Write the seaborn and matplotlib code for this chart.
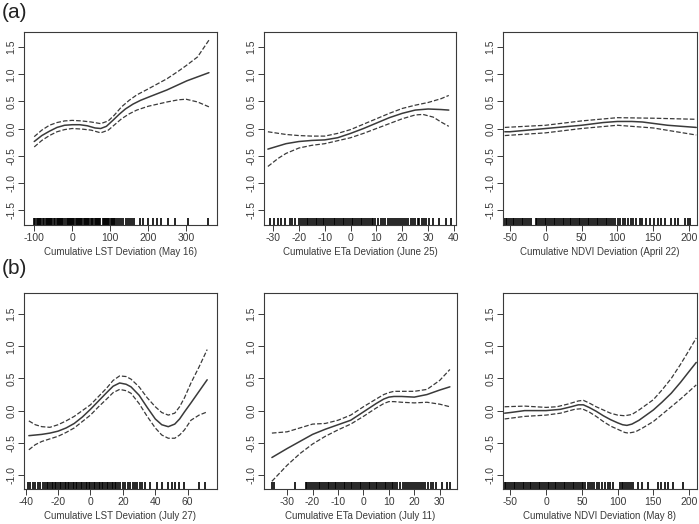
import matplotlib
matplotlib.use("Agg")
import matplotlib.pyplot as plt
import seaborn as sns

sns.set_style("ticks")
plt.rcParams['font.family'] = ['Liberation Sans', 'DejaVu Sans']
plt.rcParams['axes.unicode_minus'] = False

# ---- row (a) ----
# LST May 16
a1_x = [-100, -80, -60, -40, -20, 0, 20, 40, 60, 75, 90, 107, 125, 140, 160, 180, 205, 249, 302, 360]
a1_fit = [-0.24, -0.13, -0.05, 0.02, 0.06, 0.07, 0.07, 0.05, 0.01, 0.0, 0.04, 0.15, 0.27, 0.36,
          0.45, 0.52, 0.59, 0.71, 0.88, 1.03]
a1_band_x = [-100, -80, -60, -40, -20, 0, 25, 50, 75, 95, 110, 130, 150, 170, 200, 250, 280, 300, 330, 360]
a1_up = [-0.15, -0.03, 0.06, 0.11, 0.14, 0.15, 0.14, 0.12, 0.09, 0.14, 0.24, 0.40, 0.52, 0.62,
         0.73, 0.92, 1.06, 1.16, 1.32, 1.63]
a1_lo = [-0.34, -0.22, -0.13, -0.06, -0.02, 0.0, -0.01, -0.03, -0.08, -0.03, 0.06, 0.18, 0.27,
         0.34, 0.41, 0.49, 0.53, 0.54, 0.49, 0.40]
a1_rug = [-100, -97, -94, -91, -88, -85, -82, -76, -73, -70, -67, -64, -61, -58, -55,
          -52, -49, -46, -41, -38, -35, -32, -29, -26, -23, -20, -15, -12, -9, -6, -3,
          0, 3, 6, 9, 12, 15, 18, 21, 24, 27, 30, 33, 36, 39, 42, 45, 50, 53, 56, 59,
          62, 65, 68, 71, 74, 80, 83, 86, 89, 92, 95, 98, 101, 104, 107, 110, 113, 118,
          124, 128, 135, 141, 146, 152, 158, 164, 178, 187, 200, 213, 222, 235, 252,
          270, 304, 358]

# ETa June 25
a2_x = [-32, -25, -20, -15, -10, -5, 0, 5, 10, 15, 20, 25, 30, 35, 38]
a2_fit = [-0.38, -0.28, -0.24, -0.22, -0.21, -0.17, -0.09, 0.0, 0.10, 0.20, 0.28, 0.34, 0.36,
          0.35, 0.34]
a2_up = [-0.06, -0.11, -0.13, -0.14, -0.14, -0.09, -0.02, 0.08, 0.18, 0.28, 0.37, 0.43, 0.48,
         0.55, 0.61]
a2_lo_x = [-32, -28, -25, -20, -15, -10, 0, 5, 10, 15, 20, 25, 28, 32, 35, 38]
a2_lo = [-0.70, -0.55, -0.46, -0.36, -0.31, -0.28, -0.17, -0.09, 0.0, 0.09, 0.18, 0.25, 0.26,
         0.21, 0.12, 0.04]
a2_rug = [-31.3, -29.6, -28, -27, -25.5, -23.5, -22.6, -21.6, -20, -19.3, -18.5, -17.8,
          -17, -16.4, -15.7, -15, -14.2, -13.5, -12.9, -12.2, -11.5, -10.8, -10.1, -9.4,
          -8.7, -8, -7.3, -6.6, -5.9, -5.2, -4.5, -3.8, -3.1, -2.4, -1.7, -1, -0.3, 0.4,
          1.1, 1.8, 2.5, 3.2, 3.9, 4.6, 5.3, 6, 6.7, 7.4, 8.1, 8.8, 9.5, 10.5, 11.6, 12.4,
          13.5, 14.3, 15.2, 16, 16.9, 17.7, 18.5, 19.2, 20, 20.8, 21.5, 22.3, 23.4, 24.2,
          25, 25.9, 26.6, 27.5, 28.4, 29.2, 30.4, 31.7, 34.3, 36.9, 38.8]

# NDVI April 22
a3_x = [-57, -50, 0, 50, 80, 100, 120, 135, 170, 210]
a3_fit = [-0.06, -0.06, 0.0, 0.06, 0.11, 0.13, 0.13, 0.12, 0.06, 0.02]
a3_band_x = [-57, 0, 50, 100, 150, 210]
a3_up = [0.02, 0.06, 0.14, 0.20, 0.19, 0.17]
a3_lo = [-0.13, -0.08, 0.0, 0.06, 0.01, -0.12]
a3_rug = [-58, -56, -53.5, -51, -48.5, -46, -43.5, -41, -38.5, -36, -33.5, -31, -28.5,
          -26, -23.5, -21, -14, -11.5, -9, -6.5, -4, -1.5, 1, 3.5, 6, 8.5, 11, 13.5, 16,
          18.5, 21, 23.5, 26, 28.5, 31, 33.5, 36, 38.5, 41, 43.5, 46, 48.5, 51, 53.5, 56,
          58.5, 61, 63.5, 66, 68.5, 71, 73.5, 76, 78.5, 81, 83.5, 86, 88.5, 91, 93.5, 97,
          101, 104, 108, 111, 115, 119, 122, 126, 131, 135, 140, 146, 151, 157, 161, 167,
          175, 180, 185, 194, 199, 201]

# ---- row (b) ----
# LST July 27
b1_x = [-38, -34, -30, -25, -20, -15, -10, -5, 0, 5, 10, 14, 18, 22, 25, 30, 35, 40, 44, 48,
        52, 55, 58, 62, 67, 72]
b1_fit = [-0.39, -0.38, -0.37, -0.35, -0.32, -0.27, -0.20, -0.10, 0.02, 0.15, 0.28, 0.38, 0.43,
          0.41, 0.37, 0.24, 0.05, -0.13, -0.22, -0.25, -0.21, -0.13, -0.02, 0.12, 0.30, 0.48]
b1_up = [-0.16, -0.22, -0.25, -0.26, -0.22, -0.16, -0.09, 0.0, 0.09, 0.22, 0.35, 0.47, 0.54,
         0.53, 0.49, 0.37, 0.20, 0.06, -0.03, -0.07, -0.04, 0.06, 0.20, 0.43, 0.68, 0.95]
b1_lo = [-0.61, -0.53, -0.48, -0.44, -0.40, -0.34, -0.27, -0.17, -0.07, 0.06, 0.18, 0.28, 0.33,
         0.31, 0.27, 0.11, -0.09, -0.27, -0.38, -0.43, -0.43, -0.38, -0.30, -0.15, -0.07, -0.02]
b1_rug = [-38.4, -37, -35.5, -34, -32.5, -31, -29.5, -28, -27, -26, -25, -24, -23, -22,
          -21, -20, -19, -18, -17, -16, -15, -14, -13, -12, -11, -10, -9, -8, -7, -6, -5,
          -4, -3, -2, -1, 0, 1, 2, 3, 4, 5, 6, 7, 8, 9, 10, 11, 12, 13, 14, 15, 16, 17,
          18.5, 20, 21.5, 23, 24.5, 26, 27.5, 29, 30.5, 32, 33.5, 37, 41, 44, 48, 50, 52,
          54.5, 57.5, 66.7, 70.8]

# ETa July 11
b2_x = [-36, -30, -25, -20, -15, -10, -5, 0, 5, 8, 10, 12, 15, 20, 25, 30, 34]
b2_fit = [-0.73, -0.59, -0.48, -0.37, -0.29, -0.22, -0.15, -0.02, 0.11, 0.18, 0.21, 0.22, 0.22,
          0.21, 0.25, 0.32, 0.37]
b2_up = [-0.35, -0.33, -0.27, -0.21, -0.20, -0.15, -0.07, 0.06, 0.18, 0.25, 0.28, 0.30, 0.30,
         0.30, 0.33, 0.47, 0.64]
b2_lo = [-1.10, -0.85, -0.67, -0.52, -0.40, -0.30, -0.21, -0.09, 0.04, 0.11, 0.14, 0.14, 0.13,
         0.12, 0.13, 0.10, 0.06]
b2_rug = [-35.8, -35.3, -27, -22.6, -22, -21.3, -20.5, -19.8, -19, -18.3, -17.6, -16.9,
          -16.2, -15.5, -14.8, -14.1, -13.4, -12.7, -12, -11.3, -10.6, -9.9, -9.2, -8.5,
          -7.8, -7.1, -6.4, -5.7, -5, -4.3, -3.6, -2.9, -2.2, -1.5, -0.8, -0.1, 0.6, 1.3,
          2, 2.7, 3.4, 4.1, 4.8, 5.5, 6.2, 6.9, 7.6, 8.3, 9, 9.7, 10.4, 11.1, 11.8, 12.5,
          13.2, 14.4, 15.6, 16.3, 17, 17.8, 18.6, 19.4, 20.2, 21, 21.8, 22.6, 23.6, 24.4,
          25.5, 26.5, 27.4, 28.6, 31, 33, 34]

# NDVI May 8
b3_x = [-58, -50, -30, 0, 20, 35, 45, 52, 60, 70, 80, 90, 100, 107, 113, 120, 130, 140, 150,
        162, 175, 188, 200, 210]
b3_fit = [-0.04, -0.03, 0.0, 0.0, 0.02, 0.06, 0.09, 0.09, 0.05, -0.01, -0.08, -0.14, -0.19,
          -0.22, -0.23, -0.21, -0.15, -0.07, 0.01, 0.13, 0.27, 0.44, 0.61, 0.75]
b3_up_x = [-58, -30, 0, 15, 30, 45, 52, 60, 70, 80, 90, 100, 110, 120, 130, 140, 150, 162,
           175, 188, 200, 210]
b3_up = [0.06, 0.07, 0.05, 0.06, 0.10, 0.15, 0.16, 0.12, 0.06, 0.01, -0.04, -0.07, -0.08,
         -0.06, 0.01, 0.09, 0.17, 0.32, 0.50, 0.72, 0.94, 1.13]
b3_lo_x = [-58, -30, 0, 20, 40, 50, 60, 70, 80, 90, 100, 110, 115, 125, 135, 150, 162, 175,
           188, 200, 210]
b3_lo = [-0.13, -0.09, -0.07, -0.04, 0.02, 0.03, -0.02, -0.09, -0.17, -0.24, -0.29, -0.34,
         -0.35, -0.33, -0.27, -0.17, -0.06, 0.06, 0.18, 0.30, 0.40]
b3_rug = [-58, -55.5, -53, -50.5, -48, -45.5, -43, -40.5, -38, -35.5, -33, -30.5, -28,
          -25.5, -23, -20.5, -18, -15.5, -13, -10.5, -8, -5.5, -3, -0.5, 2, 4.5, 7, 9.5,
          12, 14.5, 17, 19.5, 22, 24.5, 27, 29.5, 32, 34.5, 37, 39.5, 42, 44.5, 47, 49.5,
          52, 55, 58, 61, 64, 67, 71, 74, 78, 82, 86, 90, 94, 104, 106, 108, 110, 113,
          116, 119, 122, 128, 134, 142, 156, 161, 166, 170, 178, 192]

panels = [
    dict(pos=[0.0343, 0.5706, 0.276, 0.3683], x=a1_x, fit=a1_fit, bx_u=a1_band_x, up=a1_up,
         bx_l=a1_band_x, lo=a1_lo, rug=a1_rug, xlim=(-127, 381), xt=[-100, 0, 100, 200, 300],
         ylim=(-1.78, 1.78), yt=[-1.5, -1.0, -0.5, 0.0, 0.5, 1.0, 1.5],
         label='Cumulative LST Deviation (May 16)'),
    dict(pos=[0.3777, 0.5706, 0.2747, 0.3683], x=a2_x, fit=a2_fit, bx_u=a2_x, up=a2_up,
         bx_l=a2_lo_x, lo=a2_lo, rug=a2_rug, xlim=(-33.5, 40.8), xt=[-30, -20, -10, 0, 10, 20, 30, 40],
         ylim=(-1.78, 1.78), yt=[-1.5, -1.0, -0.5, 0.0, 0.5, 1.0, 1.5],
         label='Cumulative ETa Deviation (June 25)'),
    dict(pos=[0.7196, 0.5706, 0.2775, 0.3683], x=a3_x, fit=a3_fit, bx_u=a3_band_x, up=a3_up,
         bx_l=a3_band_x, lo=a3_lo, rug=a3_rug, xlim=(-59.5, 211), xt=[-50, 0, 50, 100, 150, 200],
         ylim=(-1.78, 1.78), yt=[-1.5, -1.0, -0.5, 0.0, 0.5, 1.0, 1.5],
         label='Cumulative NDVI Deviation (April 22)'),
    dict(pos=[0.0343, 0.0668, 0.276, 0.374], x=b1_x, fit=b1_fit, bx_u=b1_x, up=b1_up,
         bx_l=b1_x, lo=b1_lo, rug=b1_rug, xlim=(-41, 78), xt=[-40, -20, 0, 20, 40, 60],
         ylim=(-1.22, 1.83), yt=[-1.0, -0.5, 0.0, 0.5, 1.0, 1.5],
         label='Cumulative LST Deviation (July 27)'),
    dict(pos=[0.3777, 0.0668, 0.2761, 0.374], x=b2_x, fit=b2_fit, bx_u=b2_x, up=b2_up,
         bx_l=b2_x, lo=b2_lo, rug=b2_rug, xlim=(-39.1, 36.8), xt=[-30, -20, -10, 0, 10, 20, 30],
         ylim=(-1.22, 1.83), yt=[-1.0, -0.5, 0.0, 0.5, 1.0, 1.5],
         label='Cumulative ETa Deviation (July 11)'),
    dict(pos=[0.7196, 0.0668, 0.2775, 0.374], x=b3_x, fit=b3_fit, bx_u=b3_up_x, up=b3_up,
         bx_l=b3_lo_x, lo=b3_lo, rug=b3_rug, xlim=(-60.3, 211), xt=[-50, 0, 50, 100, 150, 200],
         ylim=(-1.22, 1.83), yt=[-1.0, -0.5, 0.0, 0.5, 1.0, 1.5],
         label='Cumulative NDVI Deviation (May 8)'),
]

ink = '#3a3a3a'
fig = plt.figure(figsize=(6.99, 5.24), dpi=100)

for p in panels:
    ax = fig.add_axes(p['pos'])
    sns.lineplot(x=p['x'], y=p['fit'], ax=ax, color=ink, lw=1.1, estimator=None, sort=False)
    sns.lineplot(x=p['bx_u'], y=p['up'], ax=ax, color=ink, lw=0.9, ls='--',
                 dashes=(3.5, 2), estimator=None, sort=False)
    sns.lineplot(x=p['bx_l'], y=p['lo'], ax=ax, color=ink, lw=0.9, ls='--',
                 dashes=(3.5, 2), estimator=None, sort=False)
    sns.rugplot(x=p['rug'], ax=ax, height=0.037, color='black', linewidth=1.2,
                expand_margins=False)
    ax.set_xlim(p['xlim'])
    ax.set_ylim(p['ylim'])
    ax.set_xticks(p['xt'])
    ax.set_xticklabels([str(v) for v in p['xt']])
    ax.set_yticks(p['yt'])
    ax.set_yticklabels([f'{v:.1f}' for v in p['yt']], rotation=90, va='center')
    ax.tick_params(direction='out', length=4, width=0.7, labelsize=7.5, colors=ink, pad=1.5)
    for s in ax.spines.values():
        s.set_visible(True)
        s.set_linewidth(0.8)
        s.set_color(ink)
    ax.set_xlabel(p['label'], fontsize=7, color=ink, labelpad=3)

fig.text(0.003, 0.995, '(a)', fontsize=15, color='#222222', va='top', ha='left')
fig.text(0.003, 0.505, '(b)', fontsize=15, color='#222222', va='top', ha='left')

fig.savefig('out.png', dpi=100)
